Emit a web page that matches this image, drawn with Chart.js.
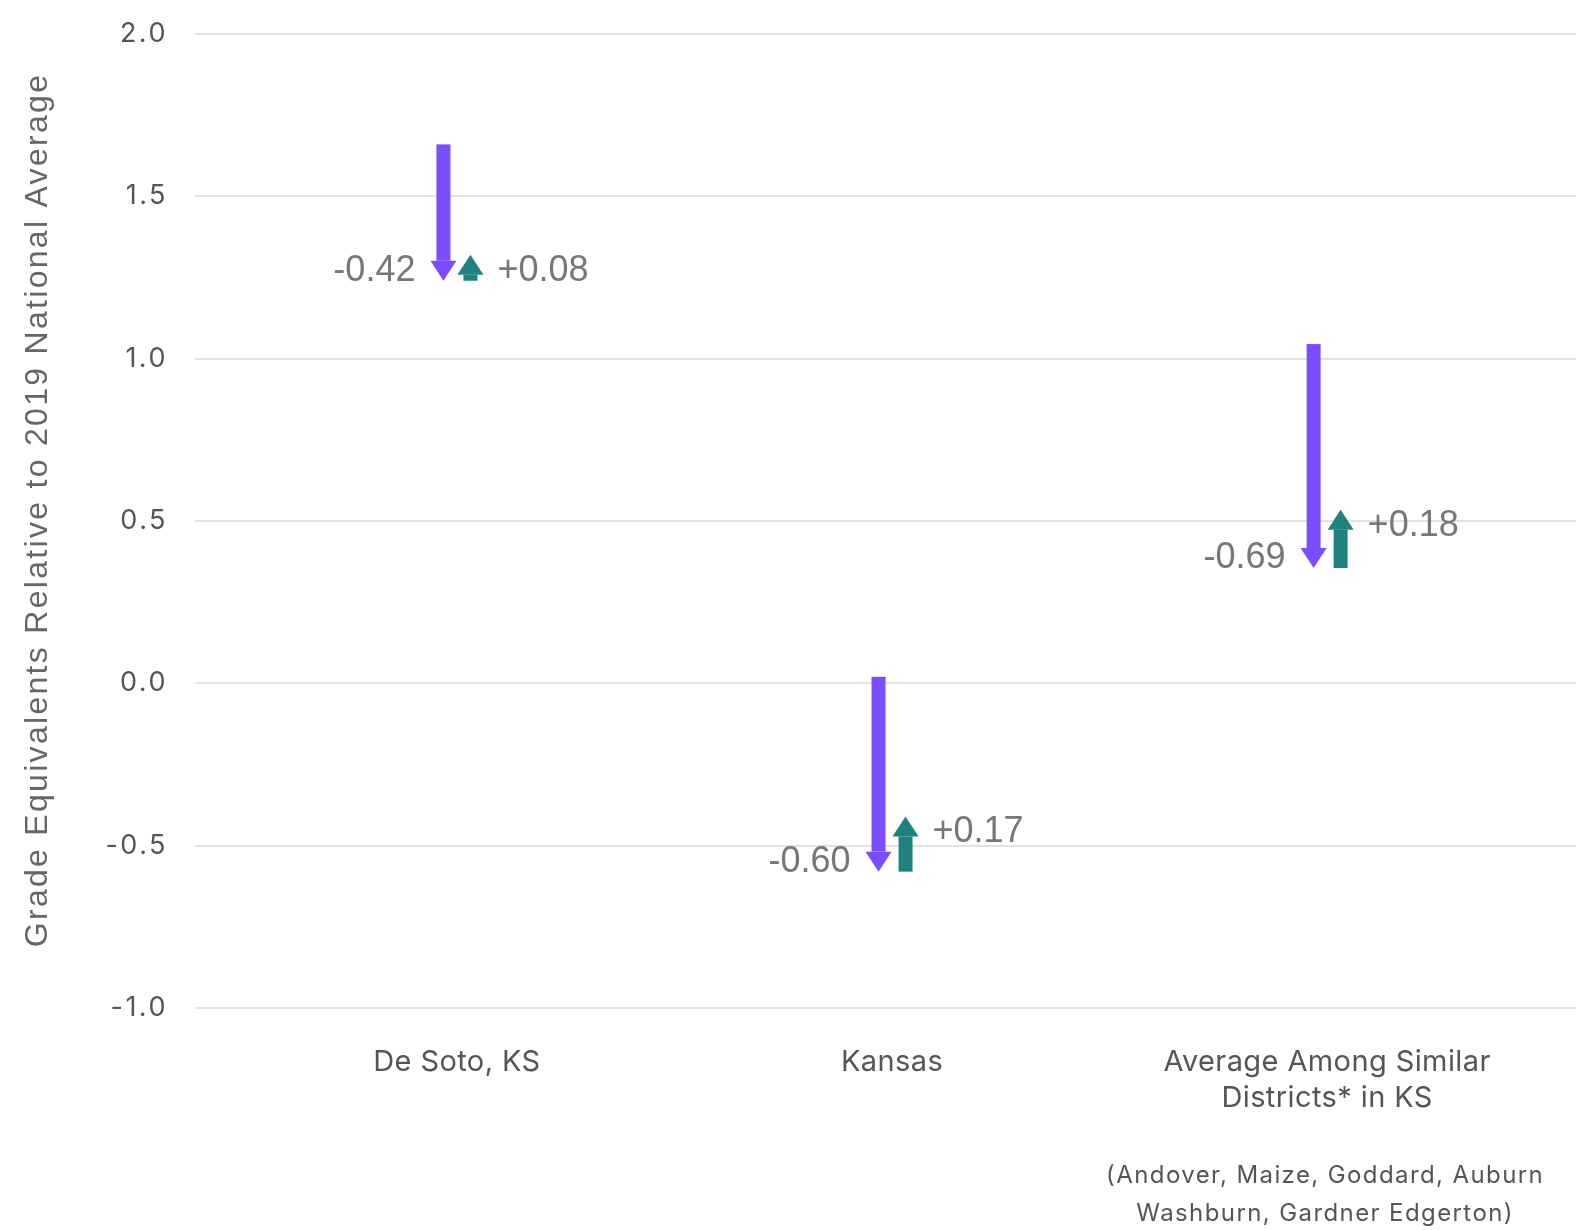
<!DOCTYPE html>
<html>
<head>
<meta charset="utf-8">
<script src="https://cdn.jsdelivr.net/npm/chart.js@4.4.1/dist/chart.umd.min.js"></script>
<style>
  html, body { margin: 0; padding: 0; background: #fff; }
  #wrap { width: 1576px; height: 1230px; }
</style>
</head>
<body>
<div id="wrap"><canvas id="chart"></canvas></div>
<script>
const categories = ["De Soto, KS", "Kansas", ["Average Among Similar", "Districts* in KS"]];
//2019 level, change 2019->2022, change 2022->2023
const start2019 = [1.66, 0.02, 1.045];
const drop = [-0.42, -0.60, -0.69];
const rebound = [0.08, 0.17, 0.18];
const yTicks = [-1.0, -0.5, 0.0, 0.5, 1.0, 1.5, 2.0];
const footnote = ["(Andover, Maize, Goddard, Auburn", "Washburn, Gardner Edgerton)"];

const purple = "#7c4dff";
const teal = "#1f827e";

//draw a vertical arrow from yFrom to yTo (pixels)
function drawArrow(ctx, x, yFrom, yTo, color) {
  const shaft = 14, head = 26, headLen = 20;
  const dir = yTo > yFrom ? 1 : -1;
  const baseY = yTo - dir * headLen;
  ctx.fillStyle = color;
  ctx.fillRect(x - shaft / 2, Math.min(yFrom, baseY), shaft, Math.abs(baseY - yFrom));
  ctx.beginPath();
  ctx.moveTo(x - head / 2, baseY);
  ctx.lineTo(x + head / 2, baseY);
  ctx.lineTo(x, yTo);
  ctx.closePath();
  ctx.fill();
}

//wider tracking for the axis labels / title
const spaced = (labelPx, titlePx, titleShift) => (s) => {
  if (s._spaced) return;
  const wrap = (name, px, dy) => {
    const orig = s[name].bind(s);
    s[name] = (area) => {
      s.ctx.save();
      s.ctx.letterSpacing = px;
      if (dy) s.ctx.translate(0, dy);
      orig(area);
      s.ctx.restore();
    };
  };
  wrap("drawLabels", labelPx, 0);
  if (titlePx) wrap("drawTitle", titlePx, titleShift);
  s._spaced = true;
};

//Plugin for the arrows, their labels and the footnote
const arrows = {
  id: "arrows",
  afterDatasetsDraw(chart) {
    const { ctx, scales: { x, y } } = chart;
    ctx.save();
    categories.forEach((c, i) => {
      const cx = x.getPixelForValue(i);
      const top = y.getPixelForValue(start2019[i]);
      const low = y.getPixelForValue(start2019[i] + drop[i]);
      const high = y.getPixelForValue(start2019[i] + drop[i] + rebound[i]);
      drawArrow(ctx, cx - 13.5, top, low, purple);
      drawArrow(ctx, cx + 13.5, low, high, teal);
      ctx.font = '36px "Liberation Sans", Arial, sans-serif';
      ctx.fillStyle = "#777";
      ctx.textBaseline = "alphabetic";
      ctx.textAlign = "right";
      ctx.fillText(drop[i].toFixed(2), cx - 41.5, low);
      ctx.textAlign = "left";
      ctx.fillText("+" + rebound[i].toFixed(2), cx + 40.5, high + 26);
    });
    //footnote under the last category
    ctx.font = "24px Inter";
    ctx.letterSpacing = "1.4px";
    ctx.fillStyle = "#555";
    ctx.textAlign = "center";
    ctx.textBaseline = "middle";
    const fx = x.getPixelForValue(2) - 2;
    footnote.forEach((line, k) => ctx.fillText(line, fx, 1176 + k * 38));
    ctx.restore();
  }
};

new Chart(document.getElementById("chart"), {
  type: "scatter",
  data: { datasets: [] },
  plugins: [arrows],
  options: {
    responsive: true,
    maintainAspectRatio: false,
    animation: false,
    layout: { padding: { top: 34, right: 0, bottom: 0, left: 0 } },
    plugins: {
      legend: { display: false },
      tooltip: { enabled: false },
    },
    scales: {
      x: {
        type: "linear",
        min: -0.602,
        max: 2.572,
        afterBuildTicks: (s) => { s.ticks = categories.map((c, i) => ({ value: i })); },
        afterFit: (s) => { s.height = 222; },
        afterUpdate: spaced("0.4px"),
        grid: { display: false, drawTicks: false },
        border: { display: false },
        ticks: {
          autoSkip: false,
          maxRotation: 0,
          padding: 36,
          color: "#555",
          font: { family: "Inter", size: 29, lineHeight: 1.25 },
          callback: (v) => categories[v],
        },
      },
      y: {
        min: -1,
        max: 2,
        afterBuildTicks: (s) => { s.ticks = yTicks.map((v) => ({ value: v })); },
        afterFit: (s) => { s.width = 195; },
        afterUpdate: spaced("2.5px", "2.3px", -11),
        grid: { color: "#e2e2e2", lineWidth: 2, drawTicks: false },
        border: { display: false },
        ticks: {
          padding: 27,
          color: "#555",
          font: { family: "Inter", size: 27, lineHeight: 0.5 },
          callback: (v) => v.toFixed(1),
        },
        title: {
          display: true,
          text: "Grade Equivalents Relative to 2019 National Average",
          color: "#666",
          font: { family: '"Liberation Sans", Arial, sans-serif', size: 32 },
          padding: { top: 19, bottom: 0 },
        },
      },
    },
  },
});
</script>
</body>
</html>
